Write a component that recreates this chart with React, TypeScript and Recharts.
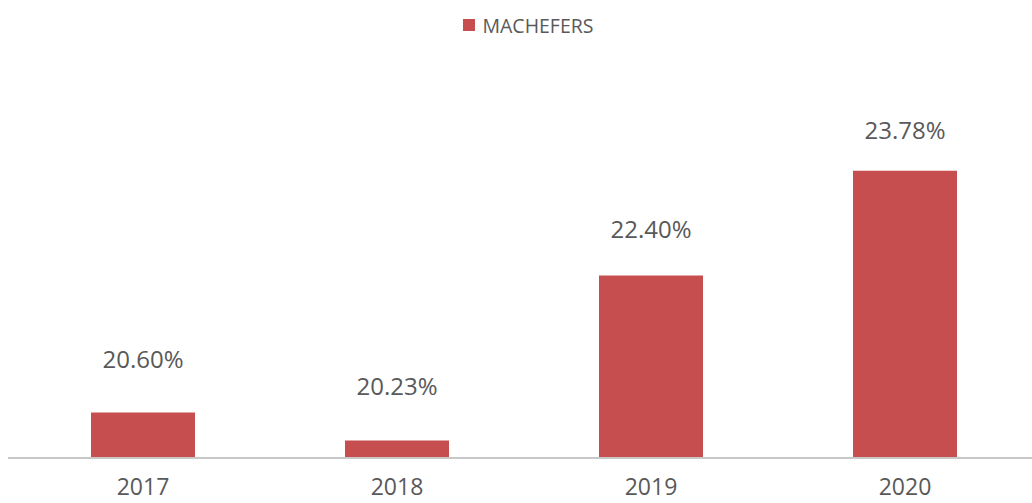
import React from 'react';
import { BarChart, Bar, XAxis, YAxis, Legend } from 'recharts';

const years = ['2017', '2018', '2019', '2020'];
const values = [20.6, 20.23, 22.4, 23.78];
const seriesName = 'MACHEFERS';

const data = years.map((year, i) => ({ year, value: values[i] }));

const BAR_COLOR = '#c64e4e';
const TEXT_COLOR = '#595959';
const FONT = '"Open Sans", sans-serif';

const renderLabel = (props: any) => {
  const { x, y, width, height, value } = props;
  const cx = Number(x) + Number(width) / 2;
  const cy = Number(y) - 56 + 0.05 * Number(height);
  return (
    <text
      x={cx}
      y={cy}
      textAnchor="middle"
      dominantBaseline="central"
      fontSize={24}
      fill={TEXT_COLOR}
      fontFamily={FONT}
    >
      {Number(value).toFixed(2) + '%'}
    </text>
  );
};

const renderLegend = () => (
  <div
    style={{
      width: 1032,
      height: 40,
      display: 'flex',
      alignItems: 'center',
      justifyContent: 'center',
      paddingLeft: 24,
      boxSizing: 'border-box',
      fontFamily: FONT,
      fontSize: 19.5,
      color: TEXT_COLOR,
    }}
  >
    <span style={{ display: 'inline-block', width: 12, height: 12, background: BAR_COLOR, marginRight: 8 }} />
    <span>{seriesName}</span>
  </div>
);

export default function App() {
  return (
    <div style={{ position: 'absolute', left: 0, top: 0, width: 1032, height: 503, background: '#fff' }}>
      <BarChart
        width={1032}
        height={503}
        data={data}
        margin={{ top: 114, right: 0, left: 8, bottom: 0 }}
      >
        <Legend
          verticalAlign="top"
          align="center"
          content={renderLegend}
          wrapperStyle={{ top: 5, left: 0, width: 1032, height: 40 }}
        />
        <XAxis
          dataKey="year"
          axisLine={{ stroke: '#c8c8c8', strokeWidth: 2 }}
          tickLine={false}
          tick={{ fill: TEXT_COLOR, fontSize: 23, fontFamily: FONT }}
          tickMargin={15}
          height={45}
          padding={{ left: 8, right: 0 }}
        />
        <YAxis hide type="number" domain={[20, 24]} allowDataOverflow />
        <Bar
          dataKey="value"
          name={seriesName}
          fill={BAR_COLOR}
          barSize={104}
          isAnimationActive={false}
          label={renderLabel}
        />
      </BarChart>
    </div>
  );
}
